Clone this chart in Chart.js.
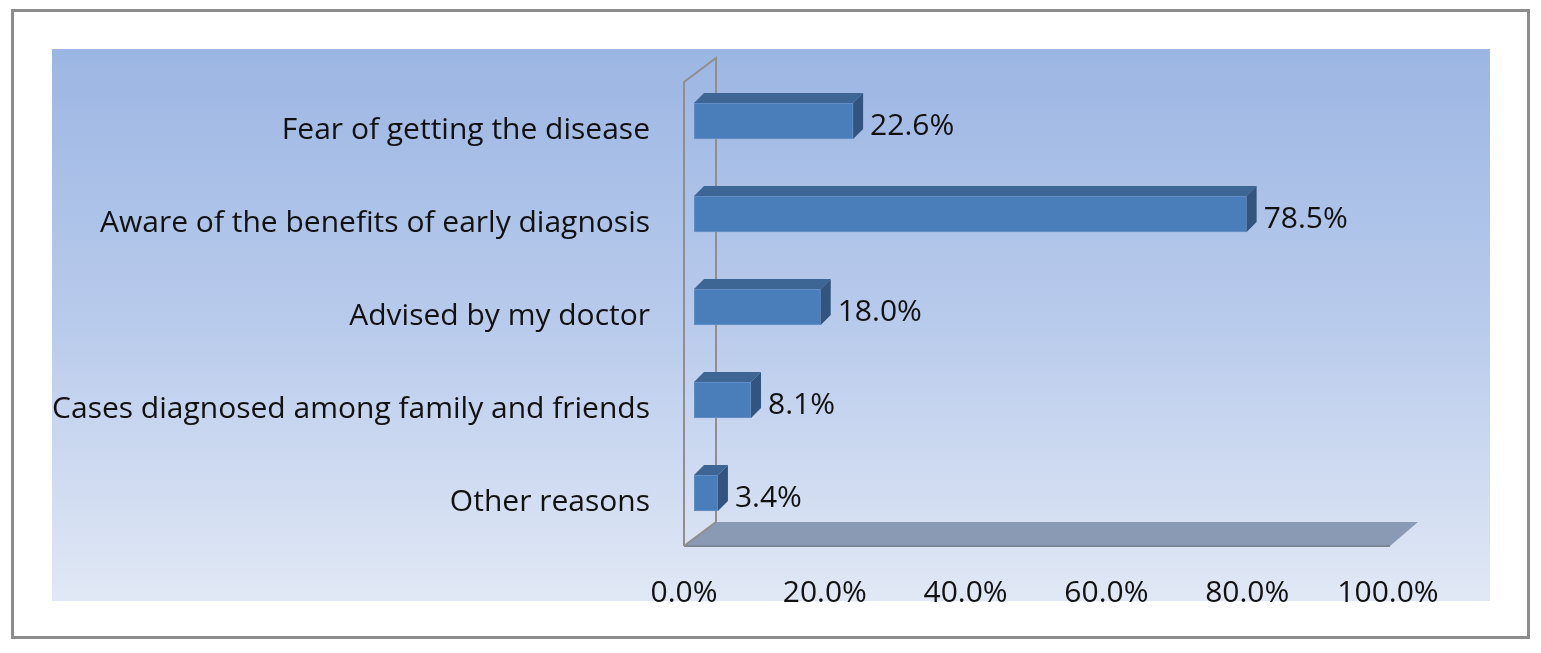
<!DOCTYPE html>
<html>
<head>
<meta charset="utf-8">
<script src="https://cdn.jsdelivr.net/npm/chart.js@4/dist/chart.umd.min.js"></script>
<style>
html,body{margin:0;padding:0;background:#fff;}
#wrap{width:1541px;height:653px;}
</style>
</head>
<body>
<div id="wrap"><canvas id="c" width="1541" height="653"></canvas></div>
<script>
const categories = [
  'Fear of getting the disease',
  'Aware of the benefits of early diagnosis',
  'Advised by my doctor',
  'Cases diagnosed among family and friends',
  'Other reasons'
];
const values = [22.6, 78.5, 18.0, 8.1, 3.4];
const xTickValues = [0, 20, 40, 60, 80, 100];

const FONT = '"Open Sans", "Liberation Sans", sans-serif';
const FSIZE = 30;
const DEPTH = 10;

const framePlugin = {
  id: 'frame',
  beforeDraw(chart) {
    const ctx = chart.ctx;
    const W = chart.width, H = chart.height;
    ctx.save();
    ctx.fillStyle = '#ffffff';
    ctx.fillRect(0, 0, W, H);
    const g = ctx.createLinearGradient(0, 49, 0, 601);
    g.addColorStop(0, '#9cb6e3');
    g.addColorStop(0.5, '#b9cbec');
    g.addColorStop(1, '#e1e8f5');
    ctx.fillStyle = g;
    ctx.fillRect(52, 49, 1438, 552);
    ctx.strokeStyle = '#8c8c8c';
    ctx.lineWidth = 3;
    ctx.strokeRect(12.5, 10.5, 1516, 627);
    ctx.restore();
  },
  beforeDatasetsDraw(chart) {
    const ctx = chart.ctx;
    const xs = chart.scales.x;
    const ca = chart.chartArea;
    const x0 = xs.getPixelForValue(0);
    const x100 = xs.getPixelForValue(100);
    const fx = x0 - 10, bx = x0 + 22;
    const fxr = x100 - 8, bxr = x100 + 20;
    const fy = ca.bottom + 6.5, by = fy - 24;
    const fyTop = ca.top + 7.5, byTop = fyTop - 24;
    ctx.save();
    ctx.fillStyle = '#8a9ab4';
    ctx.beginPath();
    ctx.moveTo(fx, fy);
    ctx.lineTo(fxr, fy);
    ctx.lineTo(bxr, by);
    ctx.lineTo(bx, by);
    ctx.closePath();
    ctx.fill();
    ctx.strokeStyle = '#7d8696';
    ctx.lineWidth = 2;
    ctx.beginPath();
    ctx.moveTo(fx, fy);
    ctx.lineTo(fxr, fy);
    ctx.stroke();
    ctx.strokeStyle = '#8f8f8f';
    ctx.lineWidth = 2;
    ctx.beginPath();
    ctx.moveTo(fx, fy);
    ctx.lineTo(fx, fyTop);
    ctx.lineTo(bx, byTop);
    ctx.lineTo(bx, by);
    ctx.lineTo(fx, fy);
    ctx.stroke();
    ctx.restore();
  },
  afterDatasetsDraw(chart) {
    const ctx = chart.ctx;
    const meta = chart.getDatasetMeta(0);
    ctx.save();
    meta.data.forEach((bar, i) => {
      const p = bar.getProps(['x', 'y', 'base', 'height'], true);
      const top = p.y - p.height / 2, bottom = p.y + p.height / 2;
      const l = Math.min(p.base, p.x), r = Math.max(p.base, p.x);
      ctx.fillStyle = '#3e6695';
      ctx.beginPath();
      ctx.moveTo(l, top);
      ctx.lineTo(r, top);
      ctx.lineTo(r + DEPTH, top - DEPTH);
      ctx.lineTo(l + DEPTH, top - DEPTH);
      ctx.closePath();
      ctx.fill();
      ctx.fillStyle = '#33547e';
      ctx.beginPath();
      ctx.moveTo(r, top);
      ctx.lineTo(r + DEPTH, top - DEPTH);
      ctx.lineTo(r + DEPTH, bottom - DEPTH);
      ctx.lineTo(r, bottom);
      ctx.closePath();
      ctx.fill();
      ctx.fillStyle = '#111111';
      ctx.font = FSIZE + 'px ' + FONT;
      ctx.textAlign = 'left';
      ctx.textBaseline = 'middle';
      ctx.fillText(values[i].toFixed(1) + '%', r + DEPTH + 7, p.y + 5);
    });
    ctx.restore();
  }
};

new Chart(document.getElementById('c'), {
  type: 'bar',
  data: {
    labels: categories,
    datasets: [{
      data: values,
      backgroundColor: '#4a7ebb',
      borderColor: '#6b93c8',
      borderWidth: 1,
      borderSkipped: false,
      barThickness: 36
    }]
  },
  options: {
    indexAxis: 'y',
    responsive: false,
    animation: false,
    devicePixelRatio: 1,
    layout: { padding: { top: 74.5, right: 143, bottom: 0, left: 0 } },
    plugins: {
      legend: { display: false },
      tooltip: { enabled: false }
    },
    scales: {
      x: {
        min: 0,
        max: 100,
        afterBuildTicks(scale) {
          scale.ticks = xTickValues.map(v => ({ value: v }));
        },
        afterFit(scale) { scale.height = 113.5; },
        grid: { display: false, drawTicks: false },
        border: { display: false },
        ticks: {
          padding: 36,
          labelOffset: -10,
          color: '#111111',
          font: { family: FONT, size: FSIZE },
          callback: v => Number(v).toFixed(1) + '%'
        }
      },
      y: {
        afterFit(scale) { scale.width = 694; },
        grid: { display: false, drawTicks: false },
        border: { display: false },
        ticks: {
          padding: 44,
          labelOffset: 9,
          color: '#111111',
          font: { family: FONT, size: FSIZE }
        }
      }
    }
  },
  plugins: [framePlugin]
});
</script>
</body>
</html>
